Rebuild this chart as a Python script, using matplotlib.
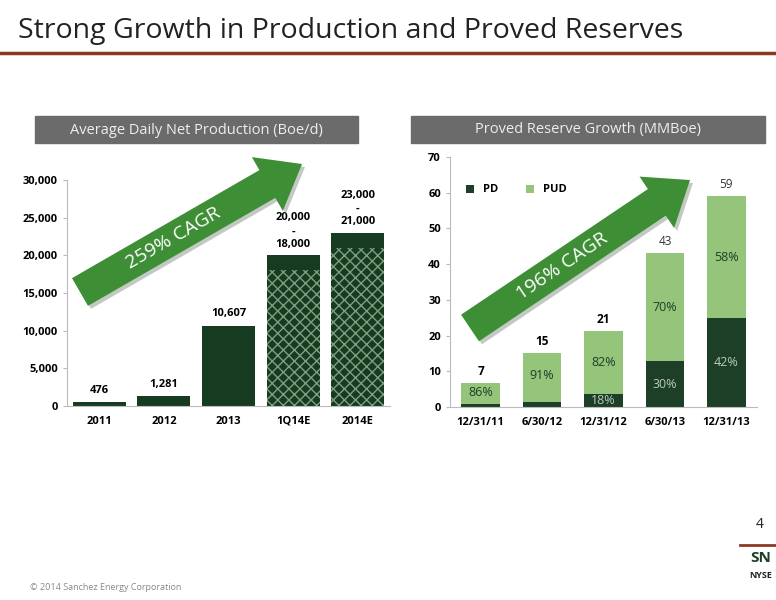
import math

import matplotlib

matplotlib.use("Agg")
import matplotlib.pyplot as plt
from matplotlib.patches import FancyArrow, Rectangle

plt.rcParams["font.family"] = ["Open Sans", "DejaVu Sans"]

# production chart
prod_labels = ["2011", "2012", "2013", "1Q14E", "2014E"]
prod_low = [476, 1281, 10607, 18000, 21000]
prod_high = [476, 1281, 10607, 20000, 23000]
prod_text = ["476", "1,281", "10,607", "20,000\n-\n18,000", "23,000\n-\n21,000"]
prod_estimate = [False, False, False, True, True]

# reserves chart
res_labels = ["12/31/11", "6/30/12", "12/31/12", "6/30/13", "12/31/13"]
res_total = [6.7, 15.0, 21.2, 43.0, 59.0]
res_pd = [0.95, 1.35, 3.7, 12.8, 24.8]
res_total_text = ["7", "15", "21", "43", "59"]
pud_pct = ["86%", "91%", "82%", "70%", "58%"]
pd_pct = [None, None, "18%", "30%", "42%"]

DARK = "#173b20"
PD_COLOR = "#1d3f27"
PUD_COLOR = "#95c47b"
ARROW = "#3e8e36"
W, H = 776, 600

fig = plt.figure(figsize=(7.76, 6.0), dpi=100)


def px_axes(left, top, right, bottom):
    return fig.add_axes([left / W, 1 - bottom / H, (right - left) / W, (bottom - top) / H])


# overlay for decorations, in pixel coordinates
deco = fig.add_axes([0, 0, 1, 1], zorder=0)
deco.set_xlim(0, W)
deco.set_ylim(H, 0)
deco.axis("off")
deco.text(18, 31, "Strong Growth in Production and Proved Reserves", fontsize=20.5,
          color="#222222", va="center", ha="left")
deco.plot([0, W], [53, 53], color="#8b3a22", lw=2.5)
deco.add_patch(Rectangle((35, 116), 323, 27, color="#6b6b6b"))
deco.text(196, 130, "Average Daily Net Production (Boe/d)", color="#eeeeee", fontsize=10.5,
          ha="center", va="center")
deco.add_patch(Rectangle((411, 116), 354, 27, color="#6b6b6b"))
deco.text(588, 130, "Proved Reserve Growth (MMBoe)", color="#eeeeee", fontsize=10.5,
          ha="center", va="center")
deco.text(30, 587, "\u00a9 2014 Sanchez Energy Corporation", fontsize=6.5, color="#888888",
          va="center")
deco.text(760, 525, "4", fontsize=10, ha="center", va="center", color="#222222")
deco.plot([740, W], [545, 545], color="#8b3a22", lw=2)
deco.text(761, 558, "SN", fontsize=11, ha="center", va="center", color="#1d3f27", fontweight="bold")
deco.text(761, 576, "NYSE", fontsize=6.5, ha="center", va="center", color="#222222", fontweight="bold")

# left chart
ax1 = px_axes(67, 180, 390, 406)
x = range(len(prod_labels))
for i in x:
    if prod_estimate[i]:
        ax1.bar(i, prod_low[i], width=0.82, color=DARK, edgecolor="#7f9f80", hatch="xxx",
                linewidth=0, zorder=2)
        ax1.bar(i, prod_high[i] - prod_low[i], bottom=prod_low[i], width=0.82, color=DARK, zorder=2)
    else:
        ax1.bar(i, prod_high[i], width=0.82, color=DARK, zorder=2)
    off = 900 if not prod_estimate[i] else 700
    ax1.text(i, prod_high[i] + off, prod_text[i], ha="center", va="bottom", fontsize=8,
             fontweight="bold", linespacing=1.3)
ax1.set_ylim(0, 30000)
ax1.set_xlim(-0.5, 4.5)
ax1.set_yticks(range(0, 30001, 5000))
ax1.set_yticklabels([f"{v:,}" for v in range(0, 30001, 5000)])
ax1.set_xticks(list(x))
ax1.set_xticklabels(prod_labels)

# right chart
ax2 = px_axes(450, 157, 757, 407)
x2 = range(len(res_labels))
pud = [t - p for t, p in zip(res_total, res_pd)]
ax2.bar(x2, res_pd, width=0.63, color=PD_COLOR, label="PD", zorder=2)
ax2.bar(x2, pud, bottom=res_pd, width=0.63, color=PUD_COLOR, label="PUD", zorder=2)
for i in x2:
    late = i >= 3
    ax2.text(i, res_total[i] + 1.5, res_total_text[i], ha="center", va="bottom", fontsize=8.5,
             fontweight="normal" if late else "bold", color="#333333" if late else "black")
    ax2.text(i, res_pd[i] + pud[i] * (0.55 if i < 2 else 0.5), pud_pct[i], ha="center",
             va="center", fontsize=9, color="#1d3f27")
    if pd_pct[i]:
        ax2.text(i, res_pd[i] / 2, pd_pct[i], ha="center", va="center", fontsize=9,
                 color="#b8ccb8")
ax2.set_ylim(0, 70)
ax2.set_xlim(-0.5, 4.5)
ax2.set_yticks(range(0, 71, 10))
ax2.set_xticks(list(x2))
ax2.set_xticklabels(res_labels)
ax2.legend(loc="upper left", bbox_to_anchor=(0.02, 0.93), ncol=2, frameon=False,
           prop={"weight": "bold", "size": 8}, handlelength=0.7,
           handleheight=0.7, columnspacing=2.5)

for ax in (ax1, ax2):
    ax.set_facecolor("none")
    for side in ("top", "right"):
        ax.spines[side].set_visible(False)
    for side in ("left", "bottom"):
        ax.spines[side].set_color("#bbbbbb")
    ax.tick_params(axis="both", labelsize=8, color="#bbbbbb", length=3)
    ax.tick_params(axis="x", length=0, pad=7)
    for lab in ax.get_xticklabels() + ax.get_yticklabels():
        lab.set_fontweight("bold")

# growth arrows on top
top = fig.add_axes([0, 0, 1, 1], zorder=5)
top.set_xlim(0, W)
top.set_ylim(H, 0)
top.axis("off")
for (x0, y0, x1, y1, label) in [(80, 292, 302, 164, "259% CAGR"),
                                (470, 328, 690, 180, "196% CAGR")]:
    dx, dy = x1 - x0, y1 - y0
    top.add_patch(FancyArrow(x0 + 3, y0 + 3, dx, dy, width=32, head_width=62, head_length=40,
                             length_includes_head=True, color="#9aa69a", alpha=0.6, lw=0))
    top.add_patch(FancyArrow(x0, y0, dx, dy, width=32, head_width=62, head_length=40,
                             length_includes_head=True, color=ARROW, lw=0))
    ang = math.degrees(math.atan2(-dy, dx))
    top.text(x0 + dx * 0.42, y0 + dy * 0.42, label, rotation=ang, rotation_mode="anchor",
             ha="center", va="center", color="white", fontsize=14)

fig.savefig("out.png", dpi=100)
